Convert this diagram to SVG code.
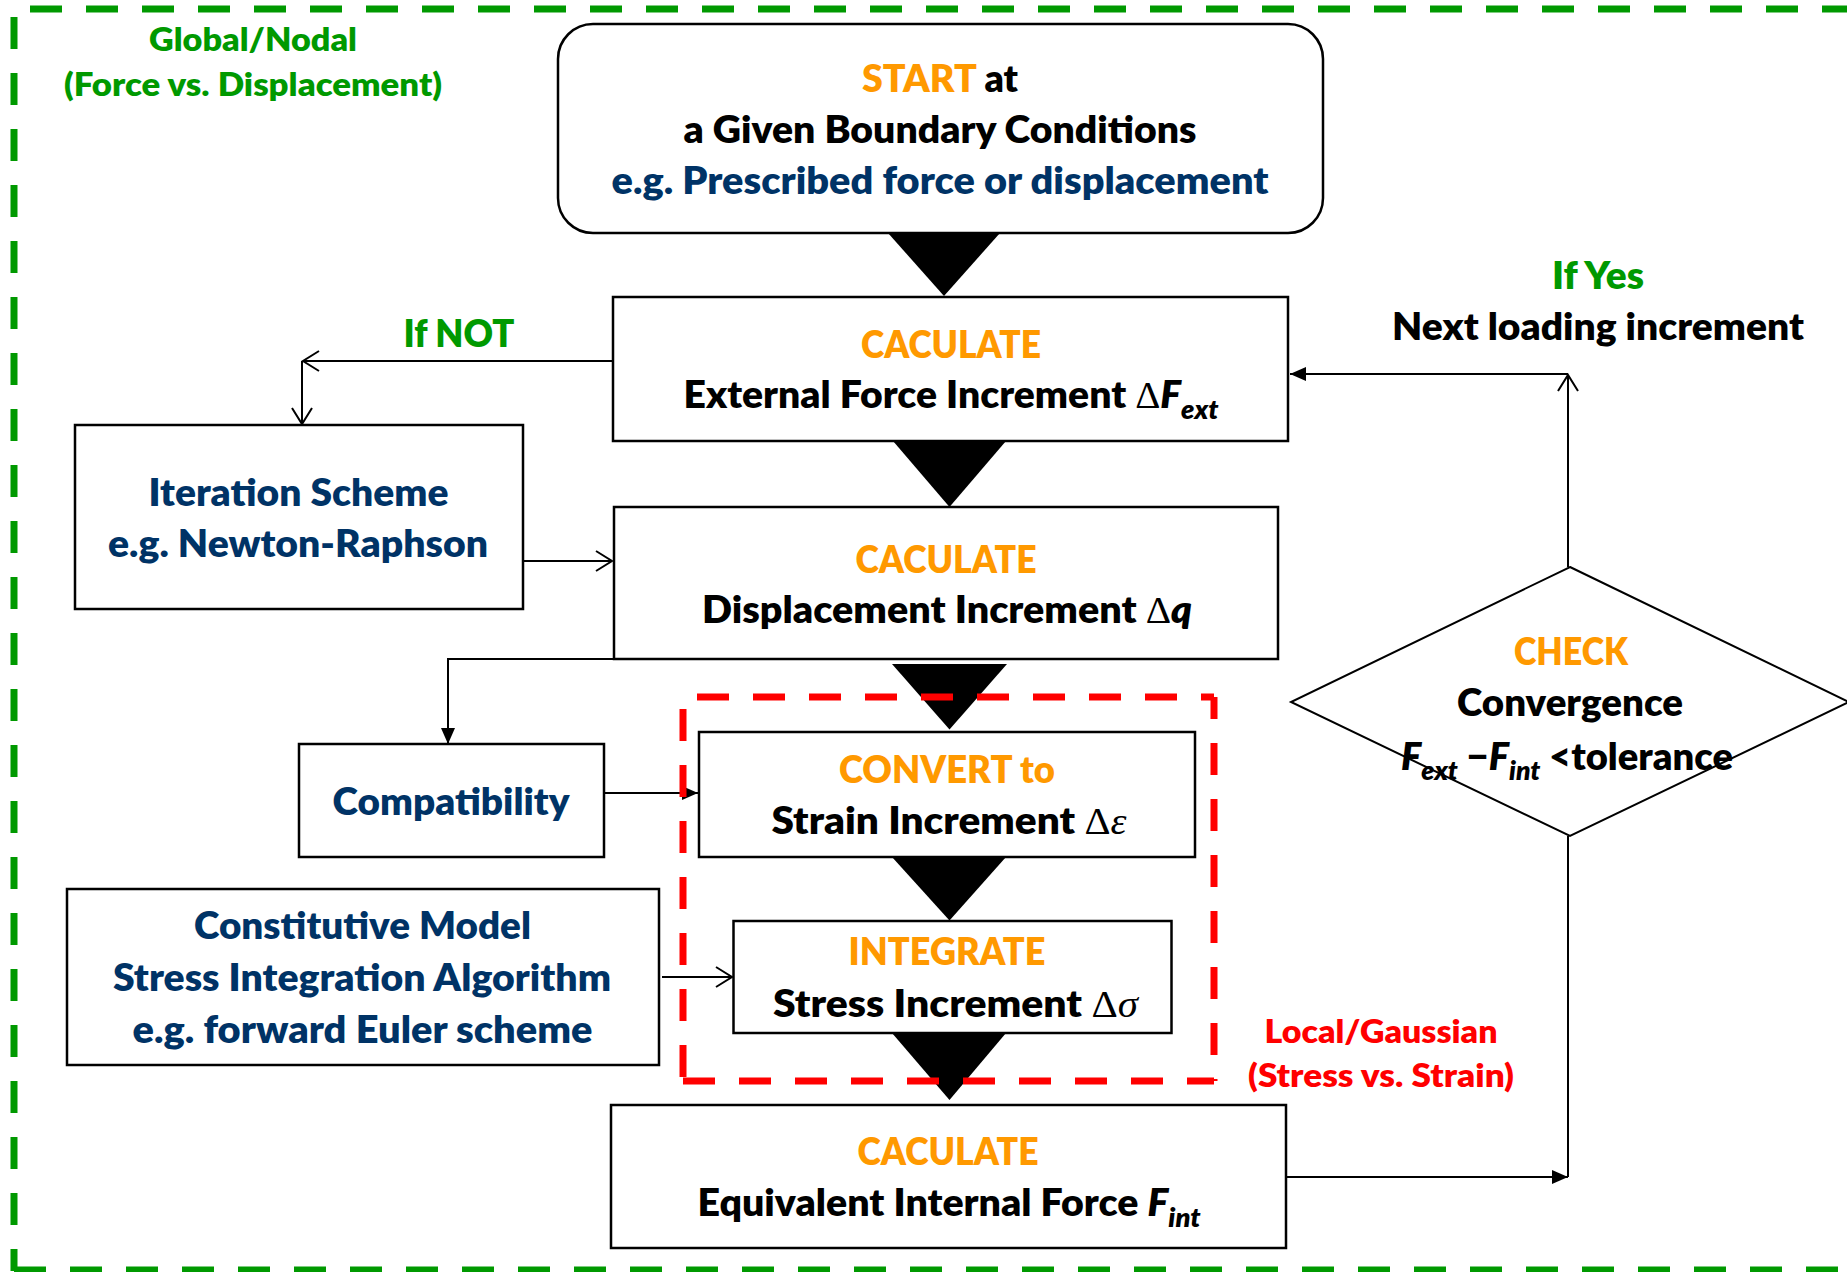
<svg xmlns="http://www.w3.org/2000/svg" width="1847" height="1272" viewBox="0 0 1847 1272">
<style>
text{font-family:Lato,"Liberation Sans",sans-serif;font-weight:800;font-size:37.5px;text-anchor:middle;fill:#000}
.o{fill:#FF9900}
.b{fill:#003366}
.g{fill:#009900}
.r{fill:#FF0000}
.sm{font-size:32px}
.box{fill:#fff;stroke:#000;stroke-width:2.5}
.ln{fill:none;stroke:#000;stroke-width:2}
.tri{fill:#000}
.gd{stroke:#009900;stroke-width:7;stroke-dasharray:32 24;fill:none}
.rd{stroke:#FF0000;stroke-width:7;stroke-dasharray:32 24;fill:none}
.it{font-style:italic}
.sym{font-family:"Liberation Serif",serif;font-weight:normal}
.sub{font-size:26px}
</style>
<defs>
<marker id="open" markerUnits="userSpaceOnUse" viewBox="0 0 20 24" refX="18" refY="12" markerWidth="20" markerHeight="24" orient="auto"><path d="M2,2 L18,12 L2,22" fill="none" stroke="#000" stroke-width="2"/></marker>
<marker id="fill" markerUnits="userSpaceOnUse" viewBox="0 0 16 16" refX="16" refY="8" markerWidth="16" markerHeight="16" orient="auto"><path d="M0,1 L16,8 L0,15 Z" fill="#000"/></marker>
</defs>
<rect width="1847" height="1272" fill="#fff"/>
<g id="frame-global">
<line x1="14" y1="9" x2="1847" y2="9" class="gd" stroke-dashoffset="40"/>
<line x1="14" y1="9" x2="14" y2="1271" class="gd" stroke-dashoffset="48"/>
<line x1="14" y1="1270" x2="1847" y2="1270" class="gd"/>
<text class="g sm" x="253" y="51" textLength="208" lengthAdjust="spacingAndGlyphs">Global/Nodal</text>
<text class="g sm" x="253" y="96" textLength="378" lengthAdjust="spacingAndGlyphs">(Force vs. Displacement)</text>
</g>
<g id="connectors">
<polygon class="tri" points="888,233 1000,233 944,296"/>
<polygon class="tri" points="893,441 1006,441 949.5,507"/>
<polygon class="tri" points="892,664 1007,664 949.5,729.5"/>
<polygon class="tri" points="892,857 1006,857 949.5,920.5"/>
<polygon class="tri" points="892,1033 1006,1033 949.5,1100"/>
<path class="ln" d="M613,361 H303" marker-end="url(#open)"/>
<path class="ln" d="M302,361 V424" marker-end="url(#open)"/>
<path class="ln" d="M523,561 H612" marker-end="url(#open)"/>
<path class="ln" d="M620,659 H448 V744" marker-end="url(#fill)"/>
<path class="ln" d="M604,793 H698" marker-end="url(#fill)"/>
<path class="ln" d="M662,977 H732" marker-end="url(#open)"/>
<path class="ln" d="M1286,1177 H1568" marker-end="url(#fill)"/>
<path class="ln" d="M1568,836 V1177"/>
<path class="ln" d="M1568,567 V375" marker-end="url(#open)"/>
<path class="ln" d="M1568,374 H1290" marker-end="url(#fill)"/>
<text class="g" x="459" y="347" textLength="111" lengthAdjust="spacingAndGlyphs">If NOT</text>
<text class="g" x="1598" y="289" textLength="92" lengthAdjust="spacingAndGlyphs">If Yes</text>
<text x="1598" y="340" textLength="412" lengthAdjust="spacingAndGlyphs">Next loading increment</text>
</g>
<g id="frame-local">
<line x1="683" y1="697" x2="1214" y2="697" class="rd" stroke-dashoffset="42"/>
<line x1="683" y1="697" x2="683" y2="1081" class="rd" stroke-dashoffset="44"/>
<line x1="1214" y1="697" x2="1214" y2="1081" class="rd" stroke-dashoffset="10"/>
<line x1="683" y1="1081" x2="1214" y2="1081" class="rd"/>
<text class="r sm" x="1381" y="1043" textLength="233" lengthAdjust="spacingAndGlyphs">Local/Gaussian</text>
<text class="r sm" x="1381" y="1087" textLength="266" lengthAdjust="spacingAndGlyphs">(Stress vs. Strain)</text>
</g>
<g id="start">
<rect class="box" x="558" y="24" width="765" height="209" rx="35"/>
<text x="940" y="92" textLength="156" lengthAdjust="spacingAndGlyphs"><tspan class="o">START</tspan> at</text>
<text x="940" y="143" textLength="513" lengthAdjust="spacingAndGlyphs">a Given Boundary Conditions</text>
<text class="b" x="940" y="194" textLength="657" lengthAdjust="spacingAndGlyphs">e.g. Prescribed force or displacement</text>
</g>
<g id="external-force">
<rect class="box" x="613" y="297" width="675" height="144"/>
<text class="o" x="951" y="358" textLength="180" lengthAdjust="spacingAndGlyphs">CACULATE</text>
<text x="951" y="408" textLength="535" lengthAdjust="spacingAndGlyphs">External Force Increment <tspan class="sym">Δ</tspan><tspan class="it">F</tspan><tspan class="it sub" dy="11">ext</tspan></text>
</g>
<g id="iteration">
<rect class="box" x="75" y="425" width="448" height="184"/>
<text class="b" x="298.5" y="506" textLength="300" lengthAdjust="spacingAndGlyphs">Iteration Scheme</text>
<text class="b" x="298" y="557" textLength="380" lengthAdjust="spacingAndGlyphs">e.g. Newton-Raphson</text>
</g>
<g id="displacement">
<rect class="box" x="614" y="507" width="664" height="152"/>
<text class="o" x="946" y="573" textLength="181" lengthAdjust="spacingAndGlyphs">CACULATE</text>
<text x="947" y="623" textLength="490" lengthAdjust="spacingAndGlyphs">Displacement Increment <tspan class="sym">Δ</tspan><tspan class="it">q</tspan></text>
</g>
<g id="check">
<polygon fill="#fff" stroke="#000" stroke-width="2" points="1570,567 1849,702 1570,836 1291,702"/>
<text class="o" x="1571" y="665" textLength="114" lengthAdjust="spacingAndGlyphs">CHECK</text>
<text x="1570" y="716" textLength="226" lengthAdjust="spacingAndGlyphs">Convergence</text>
<text x="1567" y="770" textLength="332" lengthAdjust="spacingAndGlyphs"><tspan class="it">F</tspan><tspan class="it sub" dy="10">ext</tspan><tspan dy="-10"> −</tspan><tspan class="it">F</tspan><tspan class="it sub" dy="10">int</tspan><tspan dy="-10"> &lt;tolerance</tspan></text>
</g>
<g id="compatibility">
<rect class="box" x="299" y="744" width="305" height="113"/>
<text class="b" x="451" y="815" textLength="237" lengthAdjust="spacingAndGlyphs">Compatibility</text>
</g>
<g id="convert">
<rect class="box" x="699" y="732" width="496" height="125"/>
<text class="o" x="947" y="783" textLength="216" lengthAdjust="spacingAndGlyphs">CONVERT to</text>
<text x="949" y="834" textLength="355" lengthAdjust="spacingAndGlyphs">Strain Increment <tspan class="sym">Δ</tspan><tspan class="sym it">ε</tspan></text>
</g>
<g id="constitutive">
<rect class="box" x="67" y="889" width="592" height="176"/>
<text class="b" x="362.5" y="939" textLength="337" lengthAdjust="spacingAndGlyphs">Constitutive Model</text>
<text class="b" x="362" y="991" textLength="498" lengthAdjust="spacingAndGlyphs">Stress Integration Algorithm</text>
<text class="b" x="362.5" y="1043" textLength="460" lengthAdjust="spacingAndGlyphs">e.g. forward Euler scheme</text>
</g>
<g id="integrate">
<rect class="box" x="733.5" y="921" width="438" height="112"/>
<text class="o" x="947" y="965" textLength="197" lengthAdjust="spacingAndGlyphs">INTEGRATE</text>
<text x="955.5" y="1017" textLength="365" lengthAdjust="spacingAndGlyphs">Stress Increment <tspan class="sym">Δ</tspan><tspan class="sym it">σ</tspan></text>
</g>
<g id="internal-force">
<rect class="box" x="611" y="1105" width="675" height="143"/>
<text class="o" x="948" y="1165" textLength="181" lengthAdjust="spacingAndGlyphs">CACULATE</text>
<text x="949" y="1216" textLength="503" lengthAdjust="spacingAndGlyphs">Equivalent Internal Force <tspan class="it">F</tspan><tspan class="it sub" dy="11">int</tspan></text>
</g>
</svg>
